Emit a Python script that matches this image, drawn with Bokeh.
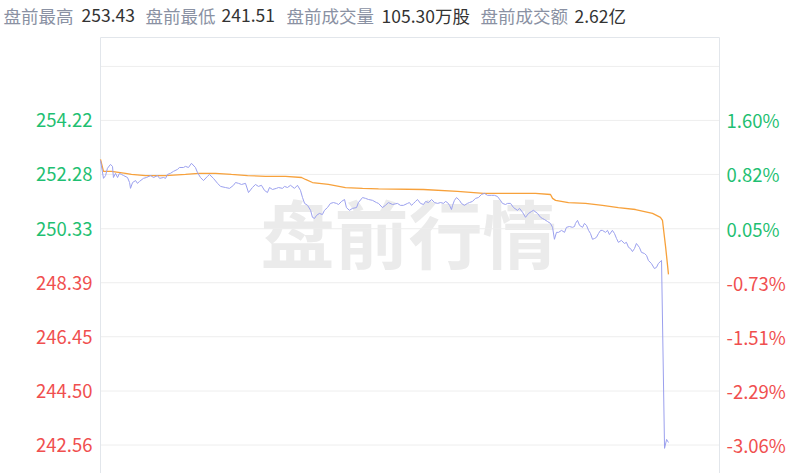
from bokeh.plotting import figure
from bokeh.models import Range1d, Label, ColumnDataSource
from bokeh.embed import file_html
from bokeh.resources import INLINE

# ---------------- data ----------------
header_names = ["盘前最高", "盘前最低", "盘前成交量", "盘前成交额"]
header_values = ["253.43", "241.51", "105.30万股", "2.62亿"]

prev_close = 250.20
price_ticks = [254.22, 252.28, 250.33, 248.39, 246.45, 244.50, 242.56]
pct_labels = ["1.60%", "0.82%", "0.05%", "-0.73%", "-1.51%", "-2.29%", "-3.06%"]
extra_grid = [256.16]
chart_top = 257.20

# minutes since 4:00 pre-market open
price_time = [0, 1.6, 2.7, 3.7, 5.3, 6.4, 6.9, 8.0, 9.1, 10.1, 11.2, 12.3, 14.4, 15.5, 16.0, 17.1,
              18.7, 19.7, 20.8, 22.9, 24.5, 26.7, 28.3, 30.4, 31.5, 33.6, 34.7, 35.7, 37.3, 38.9,
              41.0, 42.1, 44.2, 45.3, 46.9, 48.5, 50.6, 51.7, 53.3, 54.9, 57.0, 58.1, 60.2, 62.4,
              64.0, 66.6, 68.8, 70.9, 72.0, 73.6, 75.2, 77.3, 78.9, 81.0, 82.6, 84.2, 85.8, 87.4,
              89.0, 90.1, 91.7, 93.8, 94.9, 97.0, 98.1, 99.7, 101.3, 103.4, 105.0, 106.6, 107.7,
              108.8, 110.4, 112.0, 113.0, 114.1, 115.2, 116.7, 118.3, 119.4, 121.0, 122.6, 124.2,
              125.8, 126.9, 128.5, 130.1, 131.1, 132.7, 134.3, 136.5, 137.5, 139.7, 141.3, 142.9,
              145.0, 147.1, 148.2, 150.3, 151.9, 153.5, 155.7, 158.3, 159.9, 161.5, 163.7, 164.7,
              165.8, 166.9, 167.9, 169.0, 170.6, 172.2, 173.3, 174.9, 176.5, 178.1, 179.7, 181.3,
              182.9, 183.9, 185.0, 186.1, 187.1, 187.7, 188.7, 189.8, 191.4, 192.4, 194.0, 195.6,
              196.7, 198.3, 199.9, 201.5, 203.1, 204.7, 206.3, 208.4, 210.0, 211.6, 213.2, 214.3,
              215.9, 217.0, 218.6, 220.2, 222.3, 223.4, 225.0, 226.6, 228.2, 229.8, 230.8, 233.0,
              234.6, 235.6, 236.7, 238.3, 239.9, 241.0, 242.0, 243.1, 244.2, 245.8, 247.4, 248.4,
              250.0, 251.6, 252.7, 253.2, 254.3, 255.4, 257.0, 258.0, 259.1, 260.2, 261.2, 262.3,
              263.4, 264.4, 265.5, 266.6, 267.6, 269.2, 270.3, 271.3, 272.9, 274.0, 275.1, 276.1,
              277.7, 279.3, 280.4, 281.5, 282.5, 283.6, 284.7, 285.7, 287.3, 288.4, 290.0, 291.1,
              292.1, 293.7, 295.3, 296.4, 297.4, 299.1, 300.7, 301.8, 302.8]
price = [252.78, 252.14, 252.24, 252.50, 252.64, 252.57, 252.17, 252.32, 252.17, 252.32, 252.28,
         252.24, 252.17, 251.99, 251.78, 251.99, 252.06, 251.96, 252.03, 252.14, 252.17, 252.24,
         252.17, 252.24, 252.14, 252.17, 252.14, 252.28, 252.32, 252.39, 252.46, 252.53, 252.53,
         252.57, 252.53, 252.68, 252.53, 252.35, 252.17, 252.06, 252.21, 252.28, 252.14, 251.96,
         251.85, 251.81, 251.78, 251.89, 251.99, 251.96, 251.92, 251.96, 251.63, 251.81, 251.92,
         251.85, 251.89, 251.71, 251.63, 251.81, 251.74, 251.78, 251.81, 251.78, 251.85, 251.81,
         251.89, 251.78, 251.89, 251.71, 251.45, 251.24, 251.17, 250.99, 250.74, 250.70, 250.81,
         250.88, 250.84, 250.99, 251.09, 251.24, 251.27, 251.24, 251.20, 251.31, 251.38, 251.09,
         250.99, 251.06, 251.09, 251.27, 251.45, 251.42, 251.38, 251.35, 251.27, 251.24, 251.09,
         251.17, 251.27, 251.20, 251.24, 251.17, 251.17, 251.24, 251.27, 251.17, 251.24, 251.31,
         251.38, 251.24, 251.20, 251.31, 251.27, 251.38, 251.27, 251.24, 251.27, 251.24, 251.31,
         251.27, 251.17, 251.02, 251.17, 251.35, 251.45, 251.35, 251.24, 251.17, 251.24, 251.27,
         251.31, 251.42, 251.45, 251.56, 251.60, 251.53, 251.53, 251.53, 251.49, 251.35, 251.24,
         251.20, 251.24, 251.24, 251.09, 250.99, 251.06, 250.92, 250.74, 250.88, 250.95, 250.99,
         250.88, 250.74, 250.70, 250.66, 250.59, 250.52, 250.38, 249.95, 250.20, 250.20, 250.27,
         250.20, 250.38, 250.41, 250.38, 250.41, 250.52, 250.63, 250.45, 250.38, 250.52, 250.45,
         250.27, 250.16, 249.95, 249.98, 250.02, 250.16, 250.27, 250.27, 250.20, 250.27, 250.12,
         250.27, 250.16, 249.98, 249.84, 249.91, 249.80, 249.84, 249.66, 249.62, 249.51, 249.62,
         249.80, 249.66, 249.48, 249.44, 249.37, 249.19, 249.08, 248.90, 248.94, 249.08, 249.19,
         242.44, 242.76, 242.65]

avg_time = [0, 1.6, 5.9, 13.3, 16.5, 24.0, 34.7, 45.3, 52.2, 61.3, 69.8, 78.4, 88.0, 98.6, 107.2,
            109.3, 113.0, 121.5, 130.6, 139.7, 148.2, 172.2, 190.3, 204.2, 217.0, 231.9, 239.9,
            241.0, 242.6, 249.5, 258.6, 267.6, 276.1, 285.2, 294.3, 298.5, 299.6, 301.3, 302.8]
avg_price = [252.82, 252.39, 252.39, 252.32, 252.28, 252.24, 252.24, 252.28, 252.32, 252.32, 252.28,
             252.24, 252.21, 252.21, 252.17, 252.10, 251.99, 251.92, 251.81, 251.78, 251.76, 251.74,
             251.67, 251.60, 251.60, 251.60, 251.56, 251.42, 251.35, 251.27, 251.24, 251.17, 251.09,
             251.02, 250.88, 250.74, 250.63, 249.66, 248.69]

session_minutes = 330

# ---------------- styling / layout ----------------
FONT = "Noto Sans CJK SC"
GREEN = "#1fbf72"
RED = "#f04f4f"
GREY_LABEL = "#8a91a3"
DARK = "#333333"

W, H = 800, 473
PLOT_L, PLOT_R = 100, 719          # pixel edges of the chart box
PX_PER_MIN = (PLOT_R - PLOT_L) / session_minutes
x_start = -PLOT_L / PX_PER_MIN
x_end = session_minutes + (W - PLOT_R) / PX_PER_MIN
# vertical scale: ticks are 54 px apart
px_per_unit = 54 / (price_ticks[0] - price_ticks[1])
PX_TOP = 37
y_top = chart_top + PX_TOP / px_per_unit
y_bottom = y_top - H / px_per_unit

p = figure(width=W, height=H,
           x_range=Range1d(x_start, x_end),
           y_range=Range1d(y_bottom, y_top),
           output_backend="svg", toolbar_location=None,
           min_border=0, min_border_left=0, min_border_right=0,
           min_border_top=0, min_border_bottom=0)
p.xaxis.visible = False
p.yaxis.visible = False
p.xgrid.visible = False
p.ygrid.visible = False
p.outline_line_color = None
p.background_fill_color = "white"
p.border_fill_color = "white"

# horizontal grid lines
grid_y = extra_grid + price_ticks
p.segment(x0=[0] * len(grid_y), y0=grid_y, x1=[session_minutes] * len(grid_y), y1=grid_y,
          line_color="#eeeeee", line_width=1)
# chart box: top, left and right edges
p.segment(x0=[0, 0, session_minutes], y0=[chart_top, chart_top, chart_top],
          x1=[session_minutes, 0, session_minutes], y1=[chart_top, y_bottom, y_bottom],
          line_color="#e2e6eb", line_width=1)

# watermark
p.add_layout(Label(x=session_minutes * 0.4976, y=250.27, text="盘前行情",
                   text_font=FONT, text_font_size="74px", text_font_style="bold",
                   text_color="#ebebeb", text_align="center", text_baseline="middle",
                   level="underlay"))

p.line(avg_time, avg_price, line_color="#f7a13b", line_width=1.3)
p.line(price_time, price, line_color="#9ba0ee", line_width=1)

# axis labels (coloured by up/down vs previous close)
colors = [GREEN if v >= prev_close else RED for v in price_ticks]
lsrc = ColumnDataSource(dict(x=[0] * len(price_ticks), y=price_ticks,
                             t=[f"{v:.2f}" for v in price_ticks], c=colors))
p.text(x="x", y="y", text="t", source=lsrc, text_color="c", x_offset=-8,
       text_align="right", text_baseline="middle", text_font={"value": FONT},
       text_font_size="18.5px")
rsrc = ColumnDataSource(dict(x=[session_minutes] * len(price_ticks), y=price_ticks,
                             t=pct_labels, c=colors))
p.text(x="x", y="y", text="t", source=rsrc, text_color="c", x_offset=7,
       text_align="left", text_baseline="middle", text_font={"value": FONT},
       text_font_size="18.5px")

# header line
name_x = [3, 145, 286, 480]
value_x = [81, 221, 381, 574]
for nm, nx, vv, vx in zip(header_names, name_x, header_values, value_x):
    p.add_layout(Label(x=nx, y=H - 15, x_units="screen", y_units="screen", text=nm,
                       text_font=FONT, text_font_size="17.5px", text_color=GREY_LABEL,
                       text_baseline="middle", text_align="left"))
    p.add_layout(Label(x=vx, y=H - 15, x_units="screen", y_units="screen", text=vv,
                       text_font=FONT, text_font_size="17.5px", text_color=DARK,
                       text_baseline="middle", text_align="left"))

open("out.html", "w").write(file_html(p, INLINE))
